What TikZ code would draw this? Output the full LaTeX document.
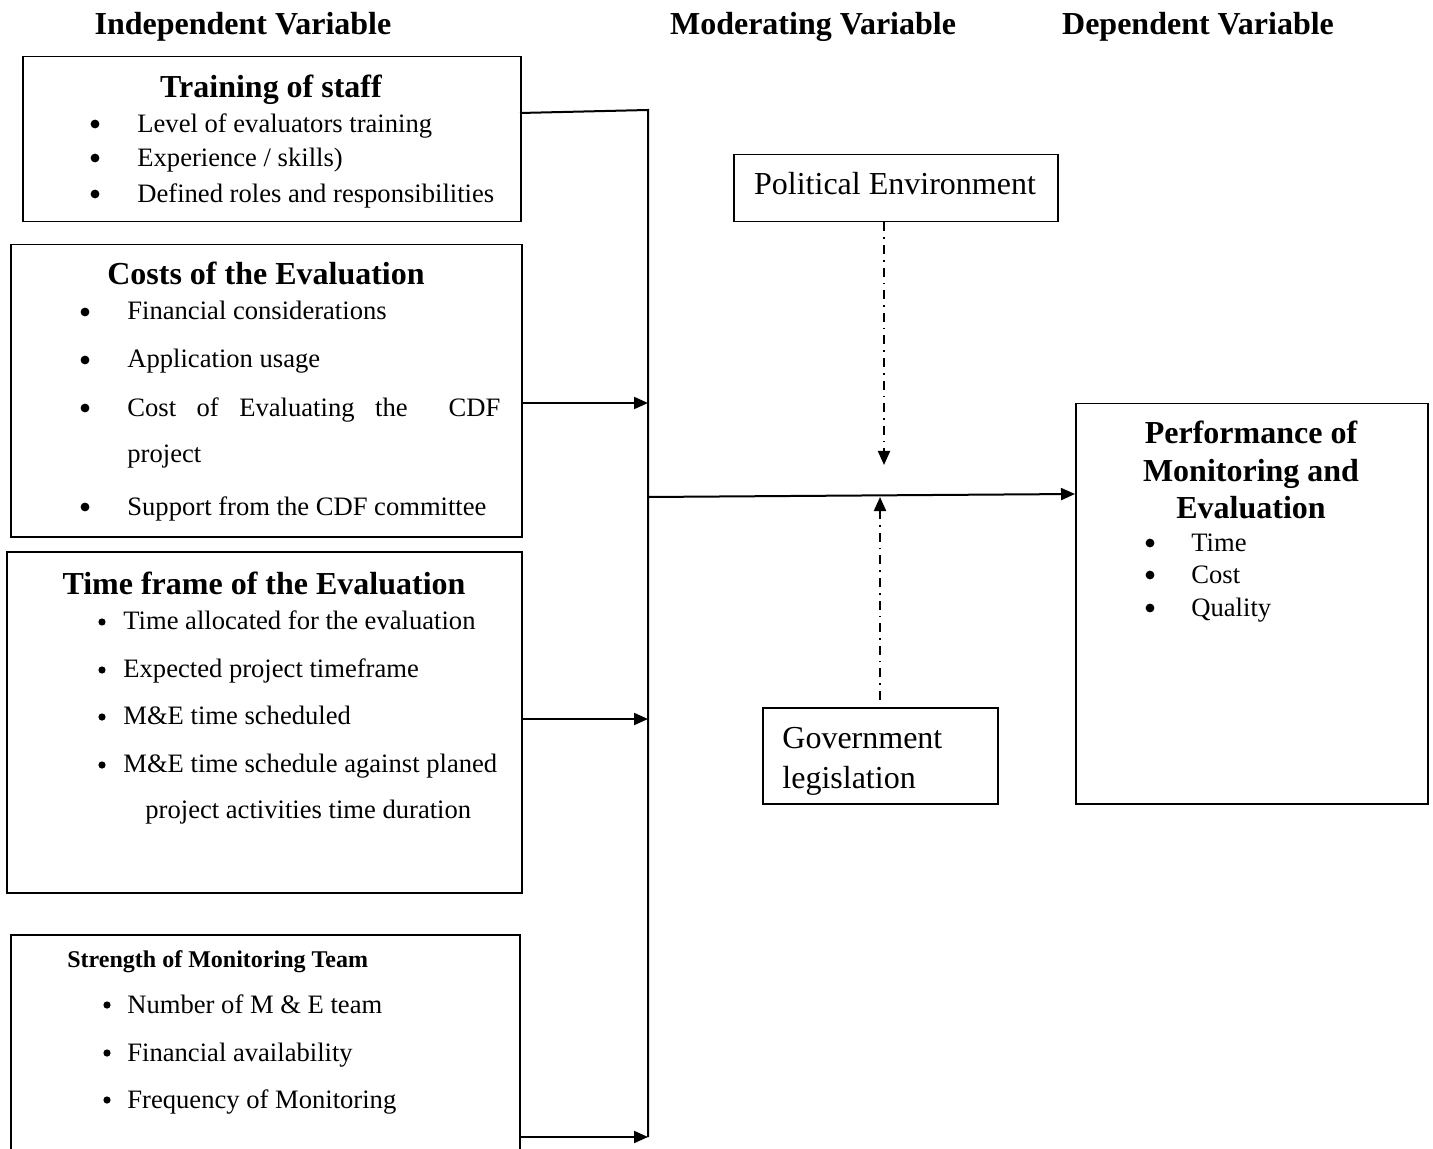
\documentclass[tikz,border=0pt]{standalone}
\usepackage{fontspec}
\setmainfont{Liberation Serif}
\usepackage{tikz}
\usetikzlibrary{arrows.meta}

\tikzset{
  box/.style={draw, line width=0.75pt, inner sep=0pt, anchor=north west},
  hd/.style={anchor=base, inner sep=0pt, font=\fontsize{16}{19}\selectfont\bfseries},
  itm/.style={anchor=base west, inner sep=0pt, font=\fontsize{13.3}{16}\selectfont},
  dot/.style={circle, fill, inner sep=0pt, minimum size=4.4pt},
  sdot/.style={circle, fill, inner sep=0pt, minimum size=3.6pt},
  link/.style={line width=1pt},
  arr/.style={line width=1pt, -{Triangle[length=7pt,width=6pt]}},
  modarr/.style={line width=1pt, dash pattern=on 4.5pt off 3pt on 0.8pt off 3pt, -{Triangle[length=7pt,width=6pt]}},
}

\begin{document}
\begin{tikzpicture}[x=0.5pt,y=0.5pt,yscale=-1]
\useasboundingbox (0,0) rectangle (1433,1149);

% Headings
\node [hd] (hind) at (243,35) {Independent Variable};
\node [hd] (hmod) at (813,35) {Moderating Variable};
\node [hd] (hdep) at (1198,35) {Dependent Variable};

%Rect [training]
\node [box, minimum width=249pt, minimum height=82.5pt] (train) at (22,56) {};
% Text Node
\node [hd] (traint) at (271,98) {Training of staff};
\node [dot] (trainb1) at (95,124) {};
\node [itm] (traini1) at (137,133) {Level of evaluators training};
\node [dot] (trainb2) at (95,158) {};
\node [itm] (traini2) at (137,167) {Experience / skills)};
\node [dot] (trainb3) at (95,194) {};
\node [itm] (traini3) at (137,203) {Defined roles and responsibilities};

%Rect [costs]
\node [box, minimum width=255.5pt, minimum height=146pt] (costs) at (10,244) {};
% Text Node
\node [hd] (costst) at (266,285) {Costs of the Evaluation};
\node [dot] (costsb1) at (85,312) {};
\node [itm] (costsi1) at (127,320) {Financial considerations};
\node [dot] (costsb2) at (85,360) {};
\node [itm] (costsi2) at (127,368) {Application usage};
\node [dot] (costsb3) at (85,408) {};
\node [itm] (costsi3) at (127,416) {\makebox[186.5pt][s]{Cost of Evaluating the \ CDF}};
\node [itm] (costsi4) at (127,462) {project};
\node [dot] (costsb5) at (85,507) {};
\node [itm] (costsi5) at (127,515) {Support from the CDF committee};

%Rect [time frame]
\node [box, minimum width=257.5pt, minimum height=170.5pt] (time) at (6,551) {};
% Text Node
\node [hd] (timet) at (264,594) {Time frame of the Evaluation};
\node [sdot] (timeb1) at (102,622) {};
\node [itm] (timei1) at (123,629) {Time allocated for the evaluation};
\node [sdot] (timeb2) at (102,670) {};
\node [itm] (timei2) at (123,677) {Expected project timeframe};
\node [sdot] (timeb3) at (102,717) {};
\node [itm] (timei3) at (123,724) {M\&E time scheduled};
\node [sdot] (timeb4) at (102,765) {};
\node [itm] (timei4) at (123,772) {M\&E time schedule against planed};
\node [itm] (timei5) at (145,818) {project activities time duration};

%Rect [team]
\node [box, minimum width=254.5pt, minimum height=120.5pt] (team) at (10,934) {};
% Text Node
\node [anchor=base west, inner sep=0pt, font=\fontsize{12}{14}\selectfont\bfseries] (teamt) at (67,967) {Strength of Monitoring Team};
\node [sdot] (teamb1) at (107,1005) {};
\node [itm] (teami1) at (127,1013) {Number of M \& E team};
\node [sdot] (teamb2) at (107,1053) {};
\node [itm] (teami2) at (127,1061) {Financial availability};
\node [sdot] (teamb3) at (107,1100) {};
\node [itm] (teami3) at (127,1108) {Frequency of Monitoring};

%Rect [moderators]
\node [box, minimum width=162pt, minimum height=33.5pt] (pol) at (733,154) {};
\node [anchor=base, inner sep=0pt, font=\fontsize{16}{19}\selectfont] (polt) at (895,195) {Political Environment};
\node [box, minimum width=117.5pt, minimum height=48pt] (gov) at (762,707) {};
\node [anchor=base west, inner sep=0pt, font=\fontsize{16}{19}\selectfont] (govt1) at (782,748) {Government};
\node [anchor=base west, inner sep=0pt, font=\fontsize{16}{19}\selectfont] (govt2) at (782,788) {legislation};

%Rect [dependent]
\node [box, minimum width=176pt, minimum height=200pt] (perf) at (1075,403) {};
% Text Node
\node [hd] (perft1) at (1251,444) {Performance of};
\node [hd] (perft2) at (1251,481) {Monitoring and};
\node [hd] (perft3) at (1251,518) {Evaluation};
\node [dot] (perfb1) at (1150,543) {};
\node [itm] (perfi1) at (1191,551) {Time};
\node [dot] (perfb2) at (1150,575) {};
\node [itm] (perfi2) at (1191,583) {Cost};
\node [dot] (perfb3) at (1150,608) {};
\node [itm] (perfi3) at (1191,616) {Quality};

% Connectors
\coordinate (trainout) at (520,113);
\coordinate (bustop) at (648,110);
\coordinate (busbot) at (648,1137);
\coordinate (costsin) at (648,403);
\coordinate (timein) at (648,719);
\coordinate (teamin) at (648,1137);
\coordinate (busmid) at (648,497);
\coordinate (perfin) at (1075,494);
\coordinate (modtop) at (884,465);
\coordinate (modbot) at (880,497);

\draw [link] (trainout) -- (bustop) -- (busbot);
\draw [arr] (costs.east |- costsin) -- (costsin);
\draw [arr] (time.east |- timein) -- (timein);
\draw [arr] (team.east |- teamin) -- (teamin);
\draw [arr] (busmid) -- (perf.west |- perfin);
\draw [modarr] (pol.south -| modtop) -- (modtop);
\draw [modarr, shorten <=3.5pt] (gov.north -| modbot) -- (modbot);

\end{tikzpicture}
\end{document}
